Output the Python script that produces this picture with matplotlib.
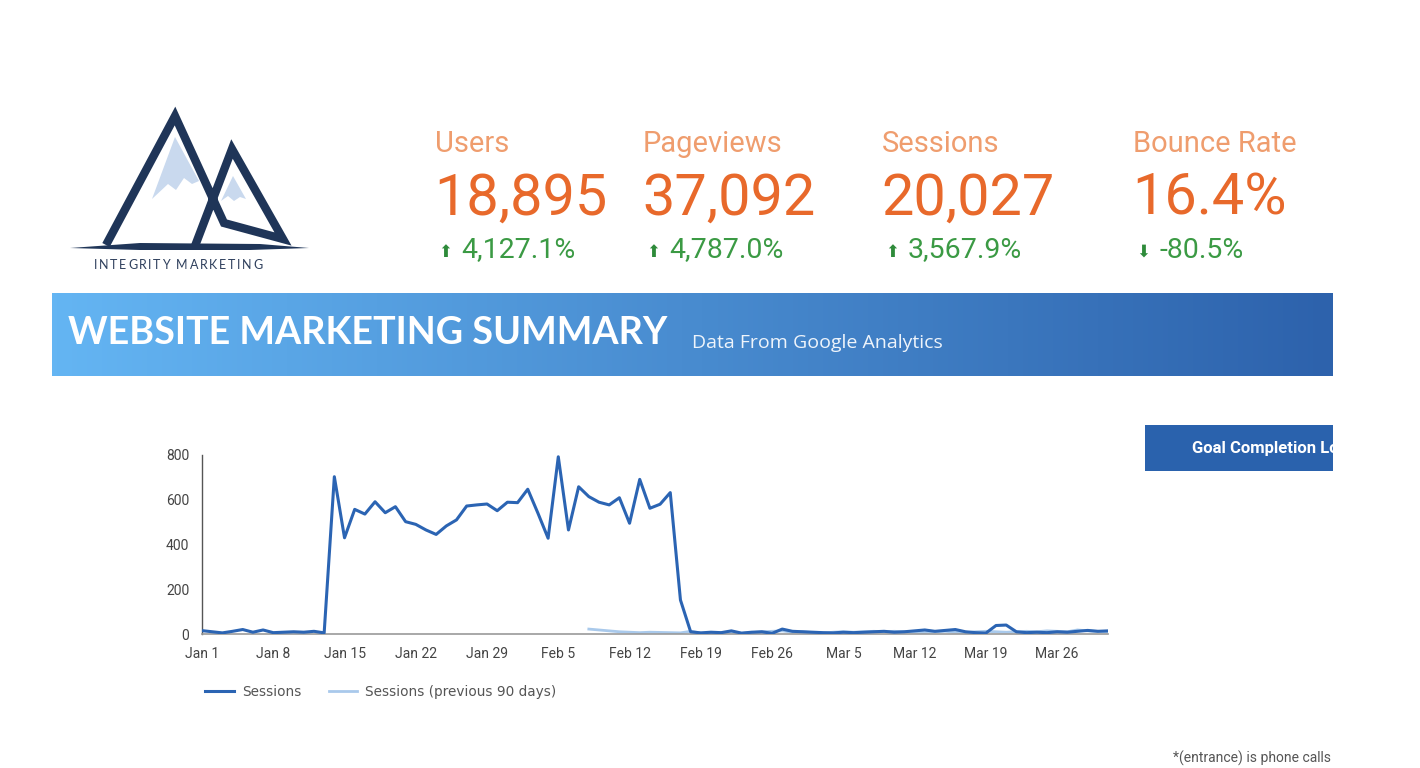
import numpy as np
import pandas as pd
import matplotlib
matplotlib.use("Agg")
import matplotlib.pyplot as plt
from matplotlib.patches import Polygon, Rectangle
from matplotlib.font_manager import FontProperties
from matplotlib.textpath import text_to_path

# KPI cards
kpi_names = ["Users", "Pageviews", "Sessions", "Bounce Rate"]
kpi_values = ["18,895", "37,092", "20,027", "16.4%"]
kpi_changes = ["4,127.1%", "4,787.0%", "3,567.9%", "-80.5%"]
kpi_up = [True, True, True, False]

# daily sessions, Jan 1 - Mar 31
dates = pd.date_range("2018-01-01", periods=90)
sessions = [15, 10, 5, 12, 20, 8, 18, 6, 8, 10, 8, 12, 5,
            703, 430, 557, 536, 591, 542, 569, 502, 490, 465, 445, 483,
            510, 572, 577, 581, 551, 589, 587, 647, 540, 428, 792, 465,
            658, 614, 589, 577, 609, 495, 691, 562, 580, 632, 152, 10,
            5, 8, 6, 14, 4, 8, 10, 3, 22, 12, 10, 8, 6, 5, 8, 6, 8, 10,
            12, 8, 10, 14, 18, 12, 16, 20, 10, 6, 4, 38, 40, 10, 6, 8,
            6, 10, 8, 12, 16, 12, 14]
sessions_prev = [np.nan] * 38 + [22, 18, 14, 10, 8, 6, 8, 7, 6, 5, 12, 4, 3,
                                 5, 8, 3, 6, 10, 12, 14, 8, 10, 6, 4, 8, 10,
                                 8, 10, 12, 10, 12, 10, 8, 6, 10, 12, 8, 6,
                                 10, 12, 10, 8, 10, 12, 10, 14, 12, 10, 18,
                                 14, 12, 10]
tick_dates = dates[::7]
tick_labels = [d.strftime("%b ") + str(d.day) for d in tick_dates]

W, H = 1420, 768
fig = plt.figure(figsize=(W / 100, H / 100), dpi=100)

# background layer in pixel coords
bg = fig.add_axes([0, 0, 1, 1])
bg.set_xlim(0, W)
bg.set_ylim(H, 0)
bg.axis("off")

# logo
navy = "#1f3558"
snow = "#c9d9ee"
bg.add_patch(Polygon([(175, 137), (199, 181), (192, 184), (184, 178), (176, 190),
                      (168, 184), (152, 199)], color=snow, lw=0))
bg.add_patch(Polygon([(233, 176), (246, 199), (240, 197), (234, 201), (228, 196),
                      (221, 201)], color=snow, lw=0))
bg.plot([106, 175, 224, 283, 232, 195], [245, 116, 223, 239, 149, 246],
        color=navy, lw=6, solid_joinstyle="miter", solid_capstyle="butt")
bg.add_patch(Polygon([(70, 248), (140, 243), (260, 244), (309, 248), (250, 250),
                      (140, 250)], color=navy, lw=0))

# spaced-out logo caption
logo_txt = "INTEGRITY MARKETING"
fp = FontProperties(family="Lato", size=9)
track = 1.6
widths = [text_to_path.get_text_width_height_descent(c, fp, ismath=False)[0] * 100 / 72
          for c in logo_txt]
total = sum(widths) + track * (len(logo_txt) - 1)
cx = 178 - total / 2
for c, w in zip(logo_txt, widths):
    bg.text(cx, 265, c, ha="left", va="center", fontproperties=fp, color="#2e3f5c")
    cx += w + track

# KPI blocks
kpi_x = [435, 643, 882, 1133]
for x, name, val, chg, up in zip(kpi_x, kpi_names, kpi_values, kpi_changes, kpi_up):
    bg.text(x, 144, name, ha="left", va="center", fontsize=21, color="#ef9d6e",
            family="Roboto")
    bg.text(x - 1, 199, val, ha="left", va="center", fontsize=41.5, color="#e8692b",
            family="Roboto")
    bg.text(x + 10, 252, "\u2B06" if up else "\u2B07", ha="center", va="center",
            fontsize=12, color="#2e8b3a", family="DejaVu Sans")
    bg.text(x + 26, 250, chg, ha="left", va="center", fontsize=20.5, color="#3b9a44",
            family="Roboto")

# banner with gradient
grad = np.linspace(0, 1, 256)
c0 = np.array([100, 181, 243]) / 255
c1 = np.array([45, 98, 172]) / 255
img = (c0[None, :] * (1 - grad[:, None]) + c1[None, :] * grad[:, None])[None, :, :]
bg.imshow(img, extent=[52, 1333, 376, 293], aspect="auto", zorder=1)
bg.text(68, 333, "WEBSITE MARKETING SUMMARY", ha="left", va="center", fontsize=27.2,
        fontweight="bold", color="white", family="Lato", zorder=2)
bg.text(692, 343, "Data From Google Analytics", ha="left", va="center", fontsize=14,
        color="#eef4fb", family="Open Sans", zorder=2)

# goal completion box (cut at page edge)
box = Rectangle((1145, 425), 188, 46, color="#2a62ad", lw=0)
bg.add_patch(box)
t = bg.text(1192, 448, "Goal Completion Location", ha="left", va="center",
            fontsize=12, fontweight="bold", color="white", family="Roboto")
t.set_clip_path(box)

bg.text(1173, 758, "*(entrance) is phone calls", ha="left", va="center",
        fontsize=10, color="#555555", family="Roboto")

# line chart
ax = fig.add_axes([202 / W, (H - 634) / H, 906 / W, 179 / H])
ax.patch.set_alpha(0)
ax.plot(dates, sessions, color="#2b64b3", lw=2.2, label="Sessions", zorder=3)
ax.plot(dates, sessions_prev, color="#a9c9eb", lw=2, label="Sessions (previous 90 days)",
        zorder=2)
ax.set_xlim(dates[0], dates[-1])
ax.set_ylim(0, 800)
ax.set_yticks([0, 200, 400, 600, 800])
ax.set_xticks(tick_dates)
ax.set_xticklabels(tick_labels)
ax.tick_params(length=0, labelsize=10, colors="#444444", pad=9)
for s in ["top", "right"]:
    ax.spines[s].set_visible(False)
ax.spines["left"].set_color("#555555")
ax.spines["left"].set_linewidth(1)
ax.spines["bottom"].set_color("#999999")
ax.spines["bottom"].set_linewidth(1.2)
for lab in ax.get_xticklabels() + ax.get_yticklabels():
    lab.set_family("Roboto")

leg = ax.legend(loc="center left", bbox_to_anchor=(193 / W, (H - 692) / H),
                bbox_transform=fig.transFigure, ncol=2, frameon=False,
                handlelength=2.1, handletextpad=0.6, columnspacing=2.0,
                prop={"family": "DejaVu Sans", "size": 9.8})
for txt in leg.get_texts():
    txt.set_color("#555555")

fig.savefig("out.png", dpi=100)
